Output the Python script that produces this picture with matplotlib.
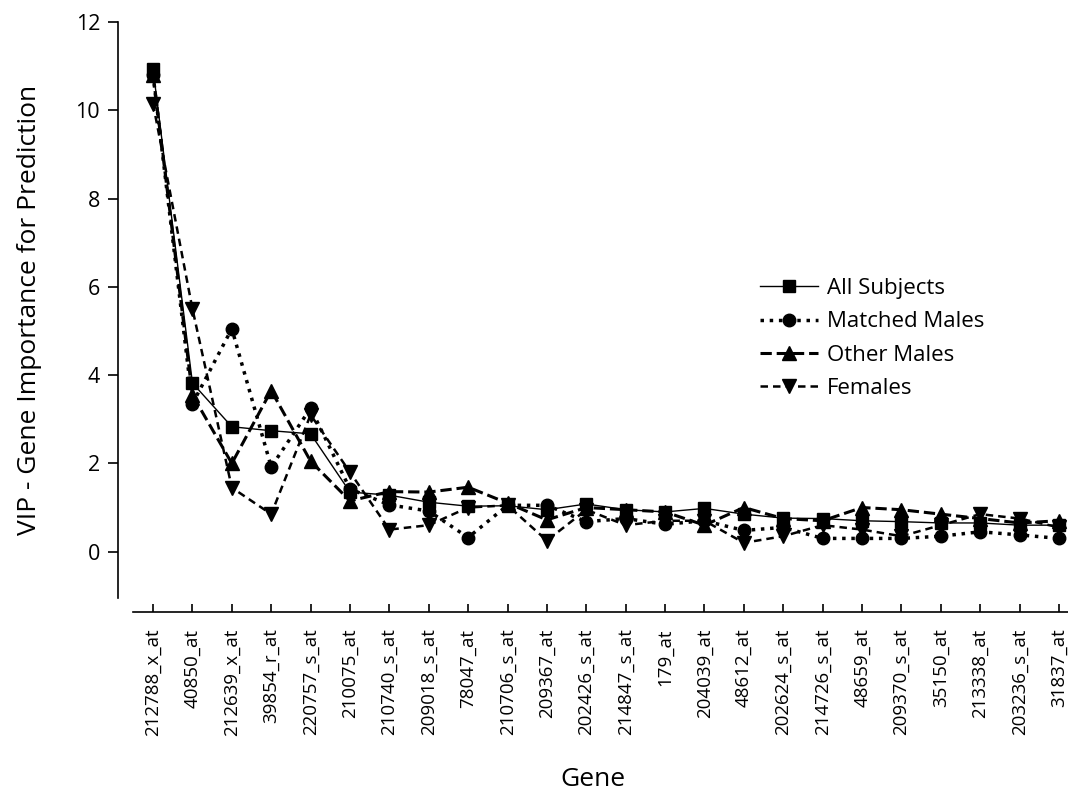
import numpy as np
from matplotlib import pyplot as plt

# ==============================================================================
# Datos
# ==============================================================================
genes = ['212788_x_at', '40850_at', '212639_x_at', '39854_r_at', '220757_s_at',
         '210075_at', '210740_s_at', '209018_s_at', '78047_at', '210706_s_at',
         '209367_at', '202426_s_at', '214847_s_at', '179_at', '204039_at',
         '48612_at', '202624_s_at', '214726_s_at', '48659_at', '209370_s_at',
         '35150_at', '213338_at', '203236_s_at', '31837_at']

all_subjects = [10.93, 3.82, 2.83, 2.74, 2.67, 1.35, 1.28, 1.12, 1.03, 1.04,
                0.95, 1.08, 0.95, 0.9, 0.98, 0.85, 0.76, 0.75, 0.7, 0.68,
                0.65, 0.65, 0.6, 0.6]
matched_males = [10.8, 3.35, 5.05, 1.92, 3.25, 1.42, 1.06, 0.92, 0.32, 1.05,
                 1.05, 0.68, 0.75, 0.62, 0.7, 0.48, 0.55, 0.3, 0.3, 0.3,
                 0.35, 0.45, 0.38, 0.3]
other_males = [10.8, 3.55, 2.0, 3.65, 2.05, 1.15, 1.36, 1.35, 1.46, 1.1,
               0.72, 1.0, 0.95, 0.9, 0.6, 1.0, 0.75, 0.7, 1.0, 0.95,
               0.85, 0.75, 0.65, 0.7]
females = [10.15, 5.5, 1.45, 0.85, 3.1, 1.8, 0.5, 0.6, 1.0, 1.05,
           0.25, 0.95, 0.6, 0.7, 0.7, 0.2, 0.35, 0.6, 0.5, 0.35,
           0.6, 0.85, 0.75, 0.55]

plt.rcParams['font.family'] = ['Open Sans', 'DejaVu Sans']

fig = plt.figure(figsize=(10.68, 7.91), dpi=100)
ax = fig.add_axes([118/1068, 193/791, 1 - 118/1068, (598 - 22)/791])
x = np.arange(len(genes))

ax.plot(x, all_subjects, '-', color='black', lw=1.0, marker='s', ms=8, label='All Subjects')
ax.plot(x, matched_males, ':', color='black', lw=2.5, marker='o', ms=9, label='Matched Males')
ax.plot(x, other_males, '--', color='black', lw=2.2, marker='^', ms=10, label='Other Males')
ax.plot(x, females, color='black', lw=1.8, marker='v', ms=10, label='Females',
        linestyle=(0, (3, 2)))

ax.set_xlim(-0.89, 23.23)
ax.set_ylim(-1.05, 12)
ax.set_yticks([0, 2, 4, 6, 8, 10, 12])
ax.set_xticks(x)
ax.set_xticklabels(genes)
ax.tick_params(axis='y', labelsize=15.5, direction='out', length=7, width=1.2, pad=6)
ax.tick_params(axis='x', direction='in', length=6, width=1.2, pad=12,
               labelsize=13.5, labelrotation=90)

ax.spines['top'].set_visible(False)
ax.spines['right'].set_visible(False)
ax.spines['bottom'].set_position(('outward', 10))
ax.spines['bottom'].set_bounds(-0.5, 23.23)
ax.spines['left'].set_linewidth(1.2)
ax.spines['bottom'].set_linewidth(1.2)

ax.set_ylabel('VIP - Gene Importance for Prediction', fontsize=19, labelpad=24)
ax.set_xlabel('Gene', fontsize=19, labelpad=22)

ax.legend(loc='upper left', bbox_to_anchor=(0.655, 0.59), frameon=False, fontsize=16,
          handlelength=2.6, labelspacing=0.55, handletextpad=0.4)

plt.savefig('out.png', dpi=100)
plt.close()
